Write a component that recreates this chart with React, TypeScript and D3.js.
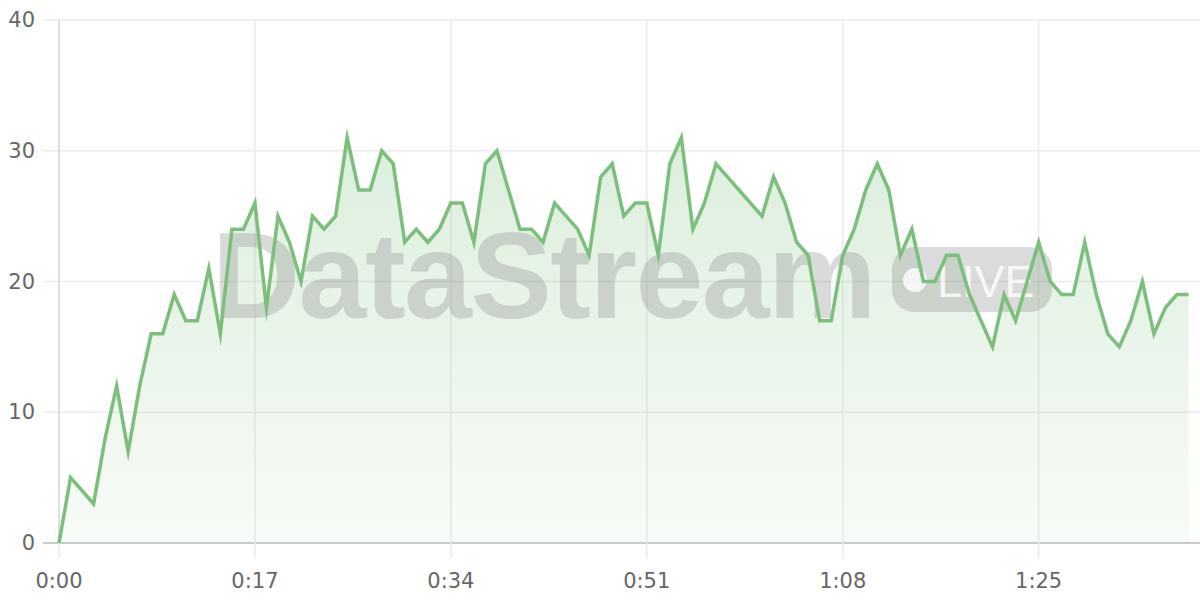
import React from "react";
import * as d3 from "d3";

const seconds: number[] = Array.from({ length: 99 }, (_, i) => i);
const values: number[] = [
  0, 5, 4, 3, 8, 12, 7, 12, 16, 16,
  19, 17, 17, 21, 16, 24, 24, 26, 18, 25,
  23, 20, 25, 24, 25, 31, 27, 27, 30, 29,
  23, 24, 23, 24, 26, 26, 23, 29, 30, 27,
  24, 24, 23, 26, 25, 24, 22, 28, 29, 25,
  26, 26, 22, 29, 31, 24, 26, 29, 28, 27,
  26, 25, 28, 26, 23, 22, 17, 17, 22, 24,
  27, 29, 27, 22, 24, 20, 20, 22, 22, 19,
  17, 15, 19, 17, 20, 23, 20, 19, 19, 23,
  19, 16, 15, 17, 20, 16, 18, 19, 19,
];
const xTicks: number[] = [0, 17, 34, 51, 68, 85];
const yTicks: number[] = [0, 10, 20, 30, 40];
const watermarkTitle = "DataStream";
const watermarkBadge = "LIVE";

const W = 1200;
const H = 600;
const LEFT = 59;
const RIGHT = 1200;
const TOP = 20;
const BOTTOM = 543;
const FONT = "'DejaVu Sans', sans-serif";

const fmt = (s: number) => `${Math.floor(s / 60)}:${String(s % 60).padStart(2, "0")}`;

export default function App() {
  const x = d3.scaleLinear().domain([0, 99]).range([LEFT, RIGHT]);
  const y = d3.scaleLinear().domain([0, 40]).range([BOTTOM, TOP]);
  const data = seconds.map((s, i) => ({ s, v: values[i] }));
  const line = d3
    .line<{ s: number; v: number }>()
    .x((d) => x(d.s))
    .y((d) => y(d.v));
  const area = d3
    .area<{ s: number; v: number }>()
    .x((d) => x(d.s))
    .y0(y(0))
    .y1((d) => y(d.v));

  return (
    <svg
      width={W}
      height={H}
      style={{ position: "absolute", left: 0, top: 0, background: "#fff" }}
    >
      <defs>
        <linearGradient id="areaGrad" gradientUnits="userSpaceOnUse" x1={0} y1={y(40)} x2={0} y2={y(0)}>
          <stop offset="0%" stopColor="#7cbf7c" stopOpacity={0.32} />
          <stop offset="100%" stopColor="#7cbf7c" stopOpacity={0.06} />
        </linearGradient>
      </defs>
      {yTicks.map((t) => (
        <line
          key={"hy" + t}
          x1={43}
          x2={RIGHT}
          y1={y(t)}
          y2={y(t)}
          stroke={t === 0 ? "#cccccc" : "#ebebeb"}
          strokeWidth={t === 0 ? 2 : 1.5}
        />
      ))}
      {xTicks.map((t) => (
        <line
          key={"vx" + t}
          x1={x(t)}
          x2={x(t)}
          y1={TOP}
          y2={558}
          stroke="#ebebeb"
          strokeWidth={1.5}
        />
      ))}
      <line x1={x(0)} x2={x(0)} y1={TOP} y2={BOTTOM} stroke="#dadada" strokeWidth={1.5} />
      <path d={area(data) || ""} fill="url(#areaGrad)" />
      <g>
        <text
          x={212}
          y={318}
          fontFamily="'Liberation Sans', Arial, sans-serif"
          fontWeight="bold"
          fontSize={122}
          letterSpacing={-1.5}
          fill="#888888"
          opacity={0.3}
        >
          {watermarkTitle}
        </text>
        <rect x={892} y={247} width={160} height={65} rx={22} fill="#888888" opacity={0.3} />
        <circle cx={915} cy={280} r={12} fill="#ffffff" opacity={0.8} />
        <text
          x={937}
          y={297}
          fontFamily="'Liberation Sans', Arial, sans-serif"
          fontSize={45}
          fill="#ffffff"
          opacity={0.8}
        >
          {watermarkBadge}
        </text>
      </g>
      <path
        d={line(data) || ""}
        fill="none"
        stroke="#7cbf7c"
        strokeWidth={3.5}
        strokeLinejoin="miter"
        strokeMiterlimit={10}
      />
      {yTicks.map((t) => (
        <text
          key={"ly" + t}
          x={35}
          y={y(t)}
          textAnchor="end"
          dominantBaseline="central"
          fontFamily={FONT}
          fontSize={21}
          fill="#666666"
        >
          {t}
        </text>
      ))}
      {xTicks.map((t) => (
        <text
          key={"lx" + t}
          x={x(t)}
          y={588}
          textAnchor="middle"
          fontFamily={FONT}
          fontSize={21}
          fill="#666666"
        >
          {fmt(t)}
        </text>
      ))}
    </svg>
  );
}
